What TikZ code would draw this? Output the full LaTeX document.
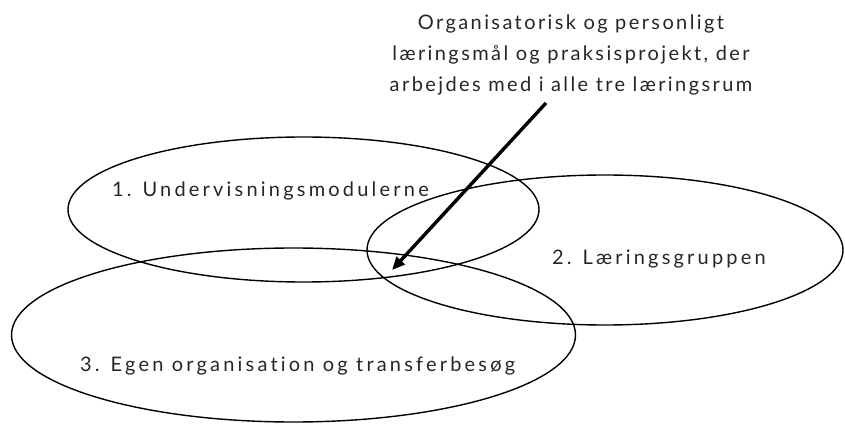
\documentclass[tikz,border=0pt]{standalone}
\usepackage{fontspec}
\setmainfont{Lato}[Ligatures=NoCommon]
\newfontfamily\lblfont{Lato}[LetterSpace=16,Ligatures=NoCommon]
\newfontfamily\topfont{Lato}[LetterSpace=12,Ligatures=NoCommon]
\usetikzlibrary{shapes.geometric,arrows.meta}
\tikzset{
  ring/.style={ellipse, draw, line width=1.4pt, inner sep=0pt, outer sep=0pt},
  lbl/.style={inner sep=0pt, outer sep=0pt, text=black!85, font=\lblfont\fontsize{20}{31}\selectfont},
  toplbl/.style={inner sep=0pt, outer sep=0pt, text=black!85, font=\topfont\fontsize{20}{31}\selectfont},
  pointer/.style={line width=3.4pt, -{Triangle[length=13pt,width=11pt]}}
}
\begin{document}
\begin{tikzpicture}[x=1pt,y=-1pt]
\useasboundingbox (0,0) rectangle (845,427);
\node[ring, minimum width=471pt, minimum height=145pt] (e1) at (303.5,209.5) {};
\node[ring, minimum width=476pt, minimum height=150pt] (e2) at (605,250) {};
\node[ring, minimum width=564pt, minimum height=174pt] (e3) at (293.5,335) {};
\node[lbl, anchor=base west] (t1) at (112,197) {1. Undervisningsmodulerne};
\node[lbl, anchor=base west] (t2) at (552,265) {2. Læringsgruppen};
\node[lbl, anchor=base west] (t3) at (80,371) {3. Egen organisation og transferbesøg};
\node[toplbl, anchor=north, align=center] (top) at (571,15) {Organisatorisk og personligt\\læringsmål og praksisprojekt, der\\arbejdes med i alle tre læringsrum};
\coordinate (as) at (546,103);
\coordinate (at) at (392,270);
\draw[pointer] (as) -- (at);
\end{tikzpicture}
\end{document}
